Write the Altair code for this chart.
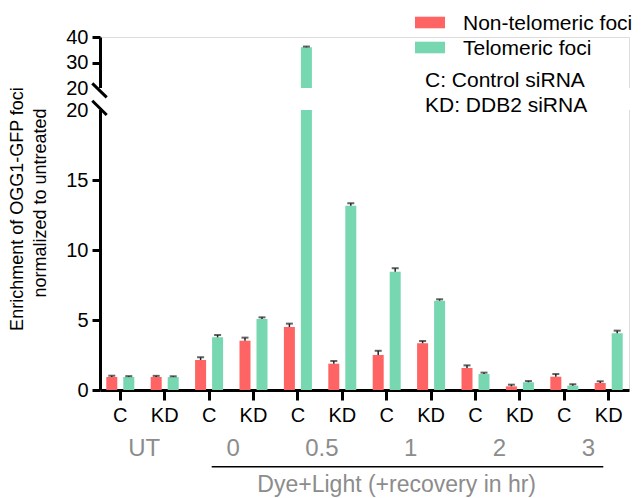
import altair as alt
import pandas as pd

# ---- data ----
groups = ["UT", "0", "0.5", "1", "2", "3"]
conds = ["C", "KD"]
series = ["Non-telomeric foci", "Telomeric foci"]
colors = ["#FF6464", "#76D7B1"]

non_tel = [0.93, 0.93, 2.14, 3.52, 4.50, 1.88, 2.50, 3.34, 1.57, 0.26, 0.95, 0.50]
non_tel_err = [0.09, 0.08, 0.20, 0.22, 0.24, 0.19, 0.30, 0.16, 0.19, 0.12, 0.19, 0.12]
tel = [0.92, 0.92, 3.76, 5.07, 35.96, 13.16, 8.45, 6.38, 1.14, 0.55, 0.31, 4.05]
tel_err = [0.07, 0.06, 0.17, 0.12, 0.30, 0.18, 0.25, 0.10, 0.10, 0.09, 0.10, 0.19]

y_ticks = [0, 5, 10, 15, 20, 20.001, 30, 40]
notes = ["C: Control siRNA", "KD: DDB2 siRNA"]
group_title = "Dye+Light (+recovery in hr)"
y_title = ["Enrichment of OGG1-GFP foci", "normalized to untreated"]

FONT = "Liberation Sans"
W, H = 529, 353
GRAY = "#8C8C8C"

keys = [f"{g}|{c}" for g in groups for c in conds]
rows = []
for i, k in enumerate(keys):
    rows.append({"key": k, "series": series[0], "value": non_tel[i], "err": non_tel_err[i]})
    rows.append({"key": k, "series": series[1], "value": tel[i], "err": tel_err[i]})
df = pd.DataFrame(rows)

yscale = alt.Scale(domain=[0, 20, 20.001, 40], range=[H, 73, 51, 0], nice=False, zero=False)
xscale = alt.Scale(domain=keys, paddingInner=0.086, paddingOuter=0)
xoff_scale = alt.Scale(domain=series, paddingInner=0.353, paddingOuter=0.37)

x_enc = alt.X("key:N", scale=xscale, sort=keys,
              axis=alt.Axis(title=None, labelAngle=0, labelExpr="split(datum.label, '|')[1]",
                            domainWidth=3, domainColor="black", tickWidth=3, tickColor="black",
                            tickSize=10, labelFontSize=20, labelFont=FONT, labelColor="black",
                            labelPadding=5))
xo_enc = alt.XOffset("series:N", scale=xoff_scale)

base = alt.Chart(df)

bars = base.mark_bar().encode(
    x=x_enc,
    xOffset=xo_enc,
    y=alt.Y("value:Q", scale=yscale,
            axis=alt.Axis(title=None, values=y_ticks, labelExpr="'' + round(datum.value)",
                          grid=False, domainWidth=3, domainColor="black", tickWidth=3,
                          tickColor="black", tickSize=8, labelFontSize=20, labelFont=FONT,
                          labelColor="black", labelPadding=4,
                          tickOpacity={"condition": {"test": "datum.value >= 20 && datum.value < 21",
                                                     "value": 0}, "value": 1})),
    color=alt.Color("series:N", scale=alt.Scale(domain=series, range=colors), legend=None),
)

err_base = base.transform_calculate(upper="datum.value + datum.err")
stems = err_base.mark_rule(color="#222222", strokeWidth=1.5).encode(
    x=alt.X("key:N", scale=xscale, sort=keys),
    xOffset=xo_enc,
    y=alt.Y("value:Q", scale=yscale),
    y2="upper:Q",
)
caps = err_base.mark_tick(color="#222222", orient="horizontal", size=7, thickness=2).encode(
    x=alt.X("key:N", scale=xscale, sort=keys),
    xOffset=xo_enc,
    y=alt.Y("upper:Q", scale=yscale),
)

one = pd.DataFrame({"a": [0]})
gap = alt.Chart(one).mark_rect(color="white").encode(
    x=alt.value(-4), x2=alt.value(W + 2),
    y=alt.Y(datum=20, scale=yscale), y2=alt.Y2(datum=20.001),
)
diag1 = alt.Chart(one).mark_rule(color="black", strokeWidth=3).encode(
    x=alt.value(-7.7), x2=alt.value(6.7), y=alt.value(46.3), y2=alt.value(60.3))
diag2 = alt.Chart(one).mark_rule(color="black", strokeWidth=3).encode(
    x=alt.value(-7.7), x2=alt.value(6.7), y=alt.value(63.7), y2=alt.value(78))

# group labels under the C/KD labels
gdf = pd.DataFrame({"key": [f"{g}|C" for g in groups], "label": groups})
glabels = alt.Chart(gdf).mark_text(fontSize=24, font=FONT, color=GRAY, dx=24,
                                   baseline="alphabetic", align="center").encode(
    x=alt.X("key:N", scale=xscale, sort=keys), y=alt.value(418.7), text="label:N")

gline = alt.Chart(one).mark_rule(color="black", strokeWidth=1.5).encode(
    x=alt.value(111.7), x2=alt.value(503.3), y=alt.value(429.7))
gtitle = alt.Chart(pd.DataFrame({"t": [group_title]})).mark_text(
    fontSize=23, font=FONT, color=GRAY, align="center", baseline="alphabetic").encode(
    x=alt.value(296.7), y=alt.value(455), text="t:N")

# y title
yt1 = alt.Chart(pd.DataFrame({"t": [y_title[0]]})).mark_text(
    fontSize=18, font=FONT, color="black", angle=270, align="center", baseline="middle").encode(
    x=alt.value(-82), y=alt.value(172), text="t:N")
yt2 = alt.Chart(pd.DataFrame({"t": [y_title[1]]})).mark_text(
    fontSize=18, font=FONT, color="black", angle=270, align="center", baseline="middle").encode(
    x=alt.value(-59), y=alt.value(166), text="t:N")

# legend
leg = []
for i, (name, col) in enumerate(zip(series, colors)):
    leg.append(alt.Chart(pd.DataFrame({"s": [name]})).mark_rect(color=col).encode(
        x=alt.value(315), x2=alt.value(345), y=alt.value(-20.3 + 25 * i), y2=alt.value(-8.7 + 25 * i)))
    leg.append(alt.Chart(pd.DataFrame({"s": [name]})).mark_text(
        fontSize=21, font=FONT, color="black", align="left", baseline="alphabetic").encode(
        x=alt.value(363), y=alt.value(-7 + 25 * i), text="s:N"))
for i, t in enumerate(notes):
    leg.append(alt.Chart(pd.DataFrame({"s": [t]})).mark_text(
        fontSize=21, font=FONT, color="black", align="left", baseline="alphabetic").encode(
        x=alt.value(325), y=alt.value(50 + 25 * i), text="s:N"))

chart = alt.layer(bars, stems, caps, gap, diag1, diag2, glabels, gline, gtitle, yt1, yt2, *leg).properties(
    width=W, height=H,
    autosize=alt.AutoSizeParams(type="none"),
    padding={"left": 92, "top": 29, "right": 4, "bottom": 120},
).configure_view(stroke=None).configure(font=FONT)

chart.save("out.html", embed_options={"renderer": "svg", "actions": False})
